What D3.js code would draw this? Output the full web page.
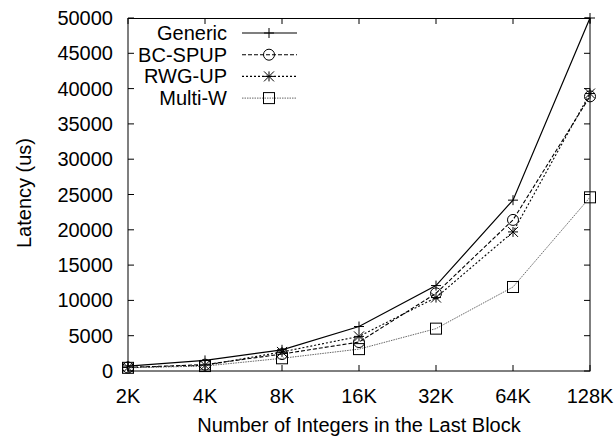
<!DOCTYPE html>
<html>
<head>
<meta charset="utf-8">
<script src="https://cdn.jsdelivr.net/npm/d3@7"></script>
<style>
  body { margin: 0; background: #fff; }
  text { font-family: "Liberation Sans", Arial, sans-serif; fill: #000; }
</style>
</head>
<body>
<div id="chart"></div>
<script>
// data
var categories = ["2K", "4K", "8K", "16K", "32K", "64K", "128K"];
var seriesNames = ["Generic", "BC-SPUP", "RWG-UP", "Multi-W"];
var generic = [700, 1500, 3000, 6300, 12100, 24200, 50000];
var bcSpup = [500, 900, 2400, 4100, 11000, 21400, 38900];
var rwgUp = [500, 800, 2700, 4900, 10400, 19700, 39300];
var multiW = [450, 700, 1800, 3100, 6000, 11900, 24600];
var yTicks = [0, 5000, 10000, 15000, 20000, 25000, 30000, 35000, 40000, 45000, 50000];

var width = 616, height = 436;
var plotLeft = 128, plotRight = 590, plotTop = 18, plotBottom = 371;

var svg = d3.select("#chart").append("svg")
  .attr("width", width)
  .attr("height", height);

var x = d3.scalePoint().domain(categories).range([plotLeft, plotRight]);
var y = d3.scaleLinear().domain([0, 50000]).range([plotBottom, plotTop]);

// ticks (mirrored on all four sides, pointing inward)
var tickLen = 6;
yTicks.forEach(function(t) {
  svg.append("line").attr("x1", plotLeft).attr("x2", plotLeft + tickLen)
    .attr("y1", y(t)).attr("y2", y(t)).attr("stroke", "#000");
  svg.append("line").attr("x1", plotRight).attr("x2", plotRight - tickLen)
    .attr("y1", y(t)).attr("y2", y(t)).attr("stroke", "#000");
  svg.append("text").attr("x", 113).attr("y", y(t) + 7)
    .attr("text-anchor", "end").style("font-size", "20px").text(t);
});
categories.forEach(function(c) {
  svg.append("line").attr("x1", x(c)).attr("x2", x(c))
    .attr("y1", plotBottom).attr("y2", plotBottom - tickLen).attr("stroke", "#000");
  svg.append("line").attr("x1", x(c)).attr("x2", x(c))
    .attr("y1", plotTop).attr("y2", plotTop + tickLen).attr("stroke", "#000");
  svg.append("text").attr("x", x(c)).attr("y", 403)
    .attr("text-anchor", "middle").style("font-size", "20px").text(c);
});

// border
svg.append("rect").attr("x", plotLeft).attr("y", plotTop + 0.5)
  .attr("width", plotRight - plotLeft).attr("height", plotBottom - plotTop - 0.5)
  .attr("fill", "none").attr("stroke", "#000");

// axis titles
svg.append("text").attr("x", 359).attr("y", 432)
  .attr("text-anchor", "middle").style("font-size", "20px")
  .text("Number of Integers in the Last Block");
svg.append("text")
  .attr("transform", "translate(31," + 193 + ") rotate(-90)")
  .attr("text-anchor", "middle").style("font-size", "20px")
  .text("Latency (us)");

// marker drawers
function plus(g, cx, cy) {
  g.append("path").attr("d", "M" + (cx - 5) + "," + cy + "h10M" + cx + "," + (cy - 5) + "v10")
    .attr("stroke", "#000").attr("fill", "none");
}
function circle(g, cx, cy) {
  g.append("circle").attr("cx", cx).attr("cy", cy).attr("r", 5.5)
    .attr("stroke", "#000").attr("fill", "none");
}
function star(g, cx, cy) {
  g.append("path").attr("d", "M" + (cx - 5) + "," + cy + "h10M" + cx + "," + (cy - 5) + "v10" +
      "M" + (cx - 5) + "," + (cy - 5) + "l10,10M" + (cx - 5) + "," + (cy + 5) + "l10,-10")
    .attr("stroke", "#000").attr("fill", "none");
}
function square(g, cx, cy) {
  g.append("rect").attr("x", cx - 5.5).attr("y", cy - 5.5).attr("width", 11).attr("height", 11)
    .attr("stroke", "#000").attr("fill", "none");
}

var series = [
  { name: seriesNames[0], values: generic, dash: null, color: "#000", width: 1.2, mark: plus },
  { name: seriesNames[1], values: bcSpup, dash: "4,2", color: "#000", width: 1.1, mark: circle },
  { name: seriesNames[2], values: rwgUp, dash: "2,2", color: "#000", width: 1.1, mark: star },
  { name: seriesNames[3], values: multiW, dash: "1.5,1", color: "#666", width: 1, mark: square }
];

var line = d3.line()
  .x(function(d, i) { return x(categories[i]); })
  .y(function(d) { return y(d); });

var plot = svg.append("g");
series.forEach(function(s, k) {
  plot.append("path").datum(s.values)
    .attr("d", line)
    .attr("fill", "none")
    .attr("stroke", s.color)
    .attr("stroke-width", s.width)
    .attr("stroke-dasharray", s.dash);
  s.values.forEach(function(v, i) { s.mark(plot, x(categories[i]), y(v)); });

  // legend row
  var ly = 33 + k * 21.7;
  svg.append("text").attr("x", 227).attr("y", ly + 7)
    .attr("text-anchor", "end").style("font-size", "20px").text(s.name);
  svg.append("line").attr("x1", 242).attr("x2", 297).attr("y1", ly).attr("y2", ly)
    .attr("stroke", s.color).attr("stroke-width", s.width)
    .attr("stroke-dasharray", s.dash);
  s.mark(svg, 269, ly);
});
</script>
</body>
</html>
